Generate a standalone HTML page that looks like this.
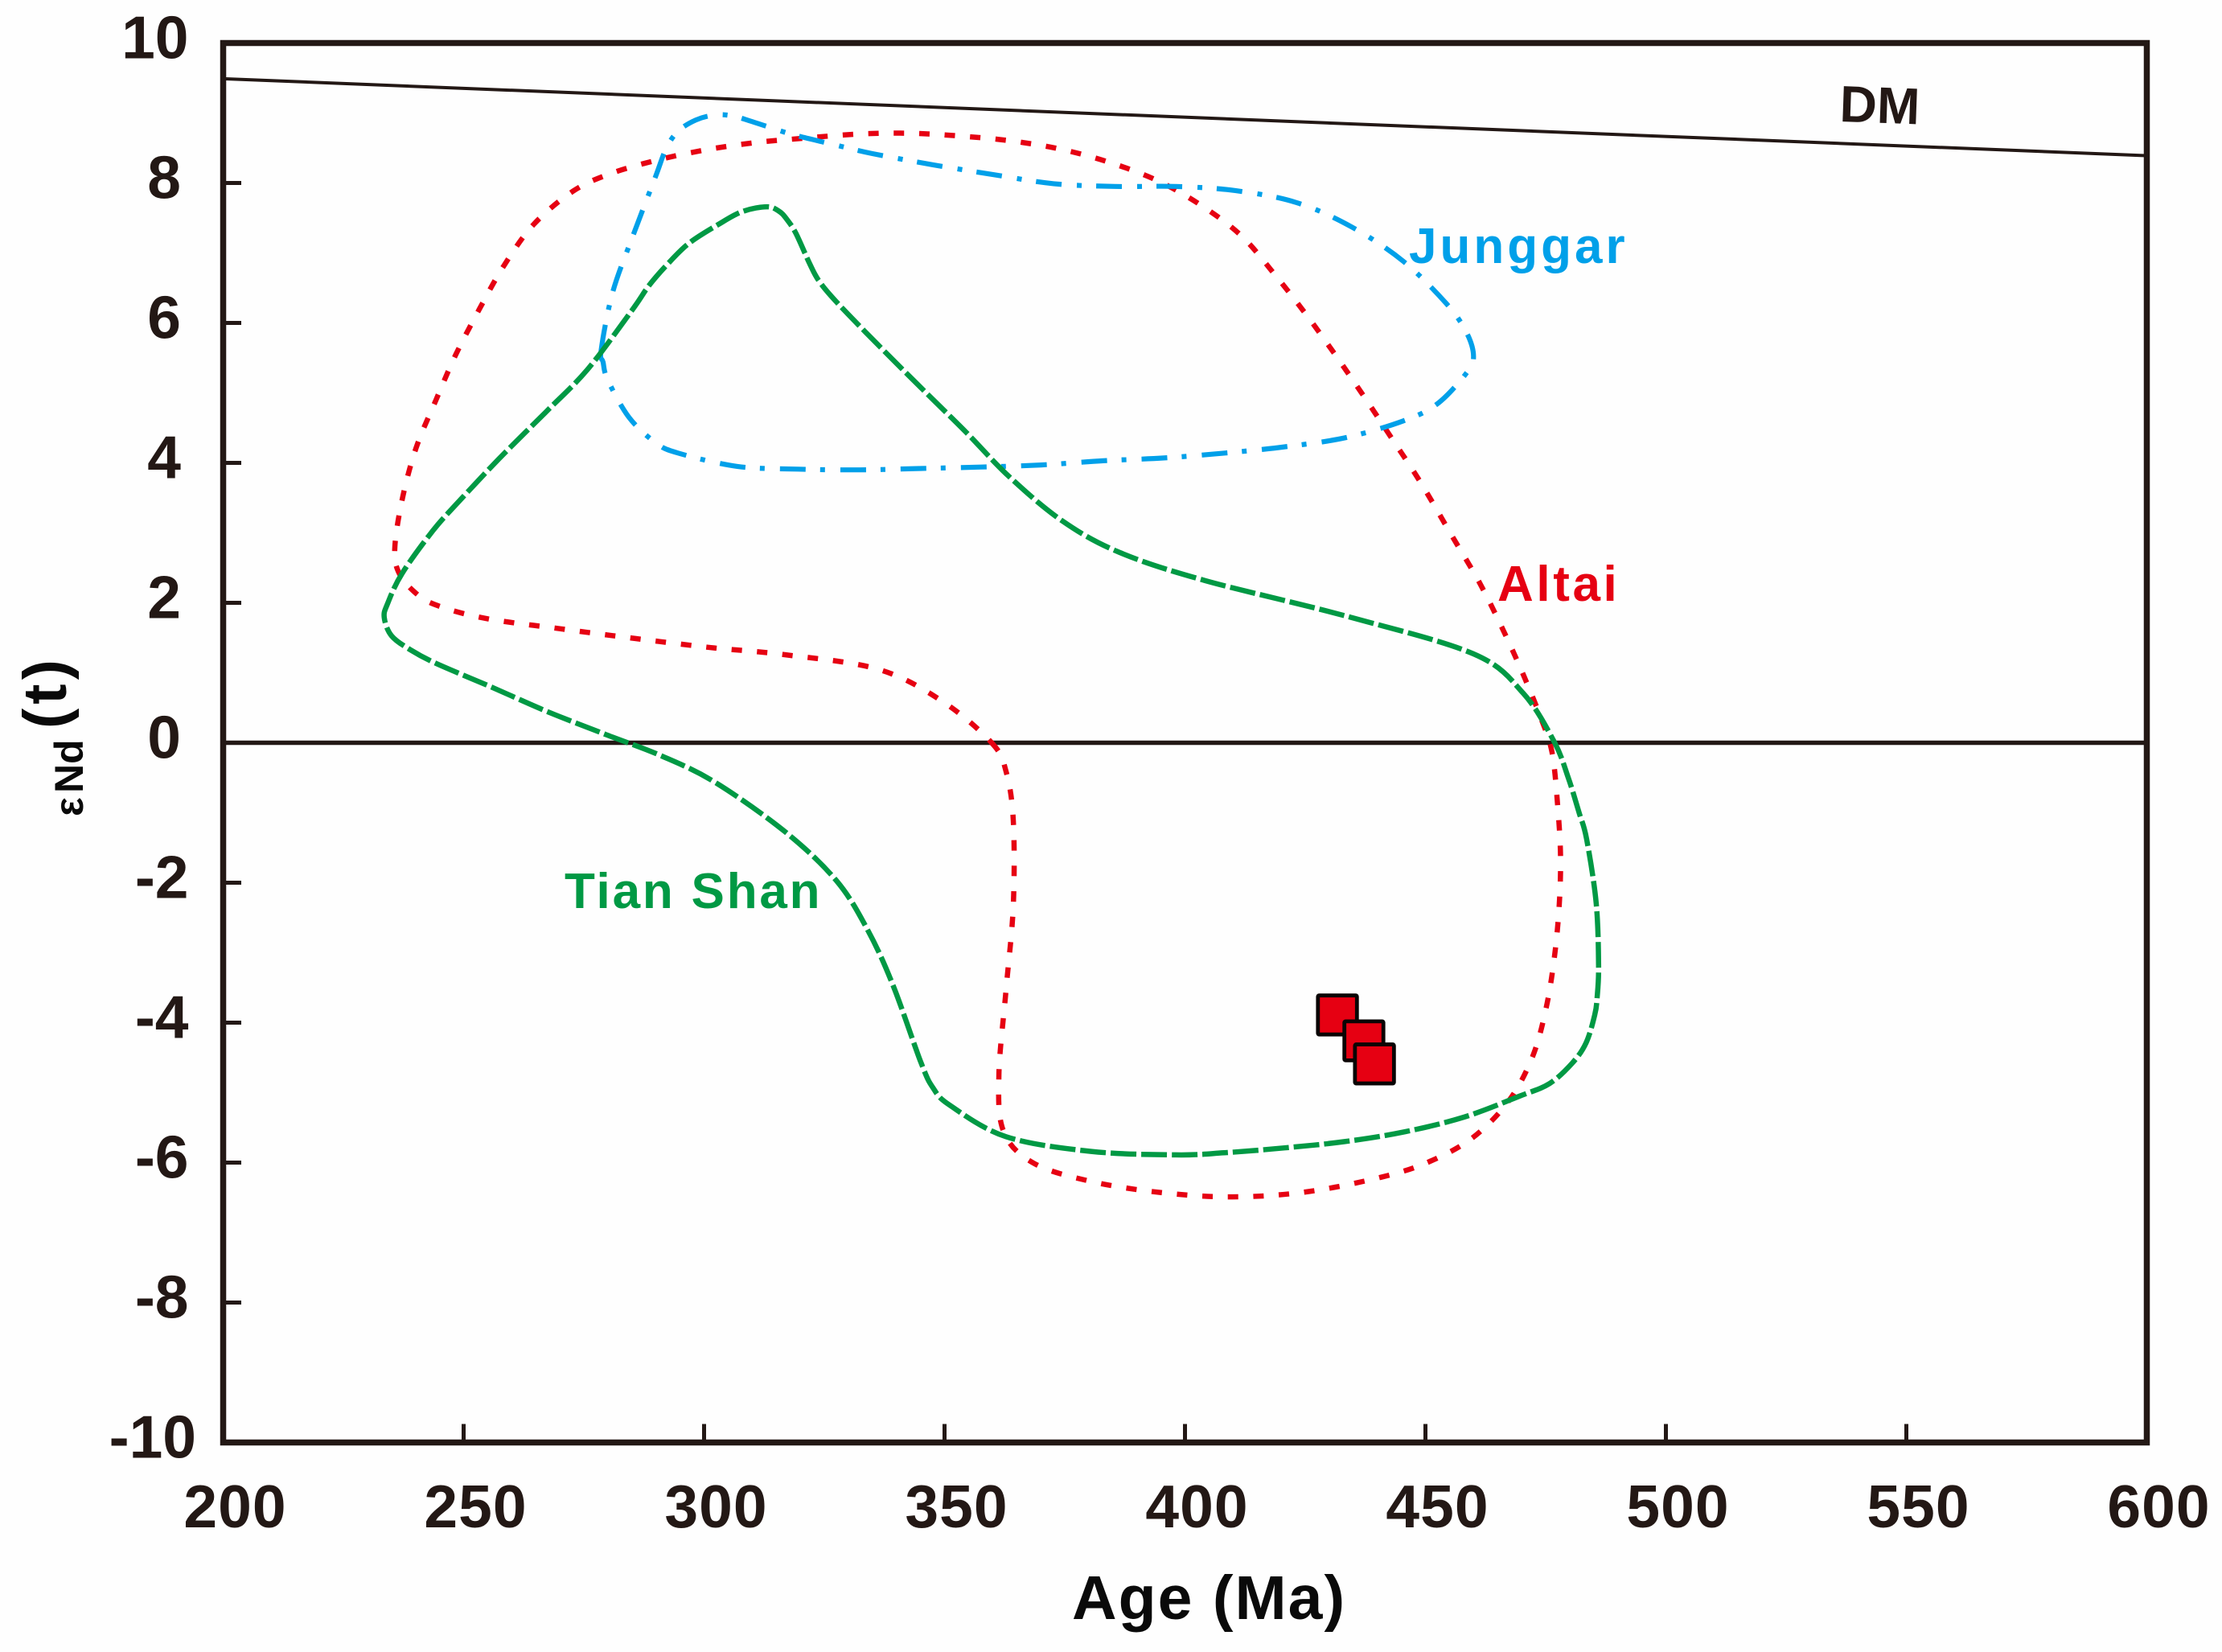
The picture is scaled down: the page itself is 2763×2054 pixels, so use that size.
<!DOCTYPE html>
<html lang="en">
<head>
<meta charset="utf-8">
<title>εNd(t) vs Age</title>
<style>
html,body{margin:0;padding:0;background:#fefefe;}
svg{display:block;}
text{font-family:"Liberation Sans",Arial,sans-serif;font-weight:700;}
</style>
</head>
<body>
<svg id="chart" xmlns="http://www.w3.org/2000/svg" width="2763" height="2054" viewBox="0 0 2763 2054">
  <rect x="0" y="0" width="2763" height="2054" fill="#fefefe"/>
  <g id="marks"></g>
  <g id="axes"></g>

  <text x="1333" y="2013" font-size="77" letter-spacing="2" fill="#0a0a0a">Age (Ma)</text>
  <g fill="#0a0a0a">
    <text transform="translate(82,906) rotate(-90)" font-size="76" letter-spacing="5">(t)</text>
    <text transform="translate(103,986) rotate(-90)" font-size="50">Nd</text>
    <text transform="translate(103,1015) rotate(-90)" font-size="50">ε</text>
  </g>

  <text transform="translate(2287,151) rotate(2)" font-size="64" fill="#231815">DM</text>
  <text x="1752" y="327" font-size="62" letter-spacing="4" fill="#00a0e9">Junggar</text>
  <text x="1862" y="747" font-size="62" letter-spacing="3.6" fill="#e60012">Altai</text>
  <text x="702" y="1129" font-size="62" letter-spacing="2.8" fill="#009944">Tian Shan</text>
</svg>

<script>
var xTickValues = [200, 250, 300, 350, 400, 450, 500, 550, 600];
var yTickValues = [10, 8, 6, 4, 2, 0, -2, -4, -6, -8, -10];

var dmAge = [200, 600];
var dmEps = [9.49, 8.39];

var altaiAge = [359.8,362.8,364.3,364.3,362.8,361.3,362.3,368.6,380.5,395.2,409.9,425.1,440.7,450.7,459.9,467.4,472.3,475.1,476.8,477.8,478.1,477.5,476.3,473.8,470.3,466.3,461.3,455.4,449.0,443.2,437.3,431.5,425.2,418.8,411.8,403.6,394.4,384.5,374.3,364.0,353.4,342.9,332.2,320.8,311.1,300.9,290.4,280.4,272.7,264.6,258.4,253.3,248.4,244.2,240.1,237.2,235.7,236.4,239.7,244.2,254.3,270.0,285.7,301.4,316.6,336.2,349.6];
var altaiEps = [0.0,-0.41,-1.11,-2.33,-3.53,-4.75,-5.56,-6.01,-6.27,-6.43,-6.49,-6.42,-6.21,-5.99,-5.64,-5.11,-4.48,-3.79,-3.07,-2.35,-1.63,-0.91,-0.13,0.39,0.98,1.59,2.28,2.97,3.72,4.33,4.94,5.52,6.12,6.68,7.24,7.67,8.03,8.29,8.48,8.60,8.67,8.71,8.70,8.64,8.58,8.48,8.33,8.13,7.88,7.41,6.82,6.20,5.55,4.89,4.21,3.47,2.80,2.45,2.16,1.97,1.78,1.63,1.49,1.36,1.26,1.05,0.59];

var tianShanAge = [233.5,234.2,237.2,243.6,249.7,257.8,267.0,275.7,284.9,288.5,292.4,296.9,302.8,307.9,313.0,315.5,317.1,319.1,322.0,324.0,327.8,336.7,345.6,354.6,363.5,374.5,386.4,404.1,433.5,460.0,470.3,476.8,479.7,481.9,483.5,485.5,486.0,485.7,485.2,483.4,480.5,475.8,469.6,458.0,445.7,433.2,420.7,408.1,398.1,380.5,362.8,351.1,347.6,345.1,339.2,333.9,327.5,317.0,302.4,291.2,279.5,267.6,256.0,244.4,238.9,235.0];
var tianShanEps = [1.79,1.99,2.42,3.03,3.50,4.09,4.72,5.33,6.17,6.53,6.84,7.14,7.40,7.59,7.66,7.60,7.49,7.28,6.84,6.59,6.28,5.65,5.04,4.43,3.80,3.17,2.72,2.32,1.81,1.27,0.71,0.01,-0.50,-0.99,-1.37,-2.29,-3.18,-3.64,-3.89,-4.29,-4.58,-4.87,-5.05,-5.35,-5.56,-5.70,-5.79,-5.86,-5.89,-5.84,-5.63,-5.18,-4.93,-4.57,-3.45,-2.66,-1.97,-1.28,-0.57,-0.19,0.12,0.44,0.79,1.13,1.33,1.53];

var junggarAge = [278.6,281.0,285.4,289.9,292.1,294.6,298.3,302.1,305.8,310.3,318.0,326.3,335.0,347.6,360.1,372.7,385.5,398.1,410.6,423.2,434.7,445.4,454.3,458.5,460.0,458.5,452.4,445.4,433.4,420.8,408.3,395.6,383.0,370.1,357.6,345.0,332.5,319.6,306.9,294.6,289.9,284.4,280.0,279.0];
var junggarEps = [5.61,6.44,7.28,8.09,8.49,8.74,8.90,8.97,8.96,8.87,8.70,8.56,8.42,8.26,8.12,7.99,7.95,7.95,7.89,7.72,7.37,6.88,6.28,5.87,5.52,5.28,4.84,4.60,4.36,4.23,4.14,4.07,4.03,3.97,3.94,3.92,3.90,3.91,3.95,4.14,4.29,4.65,5.18,5.44];

var sampleAge = [431.7, 437.2, 439.4];
var sampleEps = [-3.89, -4.26, -4.59];

var NS = 'http://www.w3.org/2000/svg';
var INK = '#231815';
var plotLeft = 277.5, plotRight = 2669.5, plotTop = 53.5, plotBottom = 1793.5;

function xScale(age) { return plotLeft + (age - 200) * (plotRight - plotLeft) / 400; }
function yScale(eps) { return plotTop + (10 - eps) * (plotBottom - plotTop) / 20; }

function mk(parent, tag, attrs) {
  var el = document.createElementNS(NS, tag);
  for (var k in attrs) { el.setAttribute(k, attrs[k]); }
  parent.appendChild(el);
  return el;
}

function closedSpline(ages, eps) {
  var n = ages.length, pts = [];
  for (var i = 0; i < n; i++) { pts.push([xScale(ages[i]), yScale(eps[i])]); }
  var d = 'M' + pts[0][0].toFixed(1) + ' ' + pts[0][1].toFixed(1);
  for (var j = 0; j < n; j++) {
    var p0 = pts[(j - 1 + n) % n], p1 = pts[j], p2 = pts[(j + 1) % n], p3 = pts[(j + 2) % n];
    d += 'C' + (p1[0] + (p2[0] - p0[0]) / 6).toFixed(1) + ' ' + (p1[1] + (p2[1] - p0[1]) / 6).toFixed(1) + ' ' +
         (p2[0] - (p3[0] - p1[0]) / 6).toFixed(1) + ' ' + (p2[1] - (p3[1] - p1[1]) / 6).toFixed(1) + ' ' +
         p2[0].toFixed(1) + ' ' + p2[1].toFixed(1);
  }
  return d + 'Z';
}

var marks = document.getElementById('marks');
var axes = document.getElementById('axes');

var dmLine = mk(marks, 'line', {x1: xScale(dmAge[0]), y1: yScale(dmEps[0]), x2: xScale(dmAge[1]), y2: yScale(dmEps[1]), stroke: INK, 'stroke-width': 4});



var zeroLine = mk(marks, 'line', {x1: xScale(200), y1: yScale(0), x2: xScale(600), y2: yScale(0), stroke: INK, 'stroke-width': 5.5});



var altaiPath = mk(marks, 'path', {d: closedSpline(altaiAge, altaiEps), fill: 'none', stroke: '#e60012', 'stroke-width': 6.5, 'stroke-dasharray': '13 18.7'});



var junggarPath = mk(marks, 'path', {d: closedSpline(junggarAge, junggarEps), fill: 'none', stroke: '#00a0e9', 'stroke-width': 6.2, 'stroke-dasharray': '32 19 6 18'});



var tianShanPath = mk(marks, 'path', {d: closedSpline(tianShanAge, tianShanEps), fill: 'none', stroke: '#009944', 'stroke-width': 6.5, 'stroke-dasharray': '32 6'});



var markerSize = 48.5;
sampleAge.forEach(function (age, i) {
  var sq = mk(marks, 'rect', {
    x: xScale(age) - markerSize / 2,
    y: yScale(sampleEps[i]) - markerSize / 2,
    width: markerSize, height: markerSize, rx: 1.5,
    fill: '#e60012', stroke: '#0a0505', 'stroke-width': 4.8
  });
  
  
});

var frame = mk(axes, 'rect', {x: plotLeft, y: plotTop, width: plotRight - plotLeft, height: plotBottom - plotTop, fill: 'none', stroke: INK, 'stroke-width': 7.5});



xTickValues.forEach(function (v) {
  if (v !== 200 && v !== 600) {
    var t = mk(axes, 'line', {x1: xScale(v), y1: plotBottom, x2: xScale(v), y2: plotBottom - 23, stroke: INK, 'stroke-width': 5});
    
    
  }
  var label = mk(axes, 'text', {x: xScale(v) + 15, y: 1899, 'font-size': 75, 'letter-spacing': 1, fill: INK, 'text-anchor': 'middle'});
  label.textContent = String(v);
  
  
});

yTickValues.forEach(function (v) {
  if (v !== 10 && v !== -10 && v !== 0) {
    var t = mk(axes, 'line', {x1: plotLeft, y1: yScale(v), x2: 300, y2: yScale(v), stroke: INK, 'stroke-width': 5});
    
    
  }
  var str = String(v);
  var label = mk(axes, 'text', {x: 225 + 9.5 * (str.length - 1), y: yScale(v) + 19, 'font-size': 75, fill: INK, 'text-anchor': 'end'});
  label.textContent = str;
  
  
});
</script>
</body>
</html>
